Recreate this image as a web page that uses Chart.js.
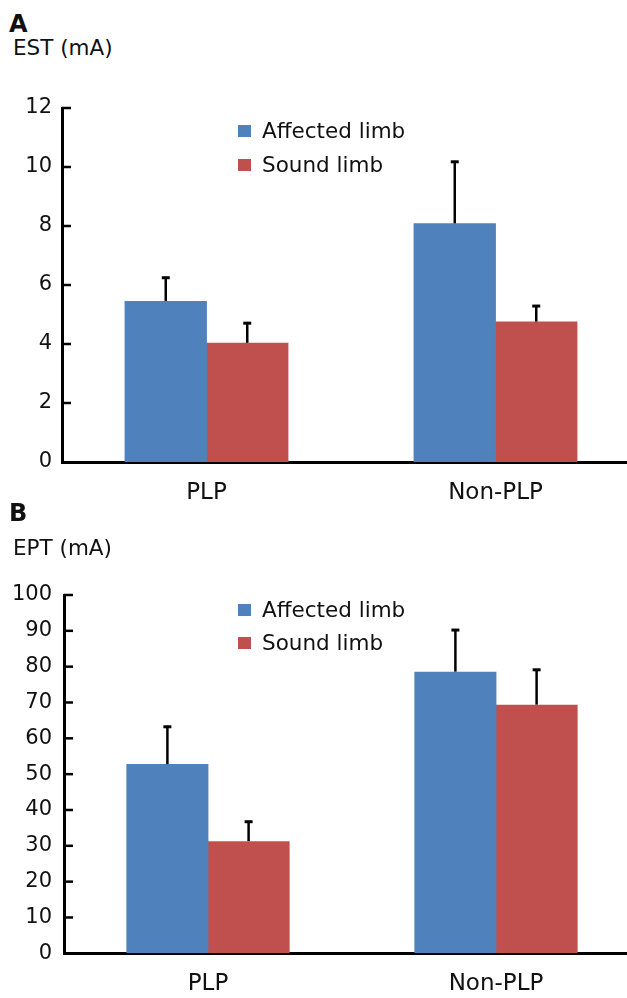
<!DOCTYPE html>
<html>
<head>
<meta charset="utf-8">
<script src="https://cdn.jsdelivr.net/npm/chart.js@4.4.0/dist/chart.umd.min.js"></script>
<style>
  html, body { margin: 0; padding: 0; background: #fff; overflow: hidden; width: 627px; height: 998px; }
  .box { position: absolute; left: 0; width: 660px; }
  .lbl { position: absolute; font-family: "DejaVu Sans", sans-serif; color: #111; white-space: nowrap; line-height: 1; }
  .panel { font-weight: bold; font-size: 24px; }
  .ytitle { font-size: 21.5px; }
</style>
</head>
<body>
<div class="lbl panel" style="left:9px; top:12px;">A</div>
<div class="lbl ytitle" style="left:13px; top:37px;">EST (mA)</div>
<div class="box" style="top:0; height:500px;"><canvas id="c1"></canvas></div>
<div class="lbl panel" style="left:9px; top:501px;">B</div>
<div class="lbl ytitle" style="left:13px; top:537px;">EPT (mA)</div>
<div class="box" style="top:500px; height:498px;"><canvas id="c2"></canvas></div>
<script>
// ---- data ----
const categories = ["PLP", "Non-PLP"];
const seriesNames = ["Affected limb", "Sound limb"];

const estAffected = [5.46, 8.09];
const estAffectedErr = [0.82, 2.12];
const estSound = [4.04, 4.76];
const estSoundErr = [0.70, 0.56];
const estTicks = [0, 2, 4, 6, 8, 10, 12];

const eptAffected = [52.8, 78.6];
const eptAffectedErr = [10.7, 11.9];
const eptSound = [31.3, 69.4];
const eptSoundErr = [5.7, 10.0];
const eptTicks = [0, 10, 20, 30, 40, 50, 60, 70, 80, 90, 100];

// ---- styles ----
const BLUE = "#4F81BD";
const RED = "#C0504D";
const FONT = "DejaVu Sans";

const errorBarPlugin = {
  id: "errorBars",
  afterDatasetsDraw(chart) {
    const ctx = chart.ctx;
    const yScale = chart.scales.y;
    chart.data.datasets.forEach((ds, di) => {
      const meta = chart.getDatasetMeta(di);
      meta.data.forEach((bar, i) => {
        const v = ds.data[i];
        const e = ds.errors[i];
        const yTop = yScale.getPixelForValue(v + e);
        ctx.save();
        ctx.strokeStyle = "#000";
        ctx.lineWidth = 2.5;
        ctx.beginPath();
        ctx.moveTo(bar.x, bar.y);
        ctx.lineTo(bar.x, yTop);
        ctx.stroke();
        ctx.lineWidth = 3;
        ctx.beginPath();
        ctx.moveTo(bar.x - 4, yTop + 1);
        ctx.lineTo(bar.x + 4, yTop + 1);
        ctx.stroke();
        ctx.restore();
      });
    });
  }
};

const inwardTicksPlugin = {
  id: "inwardTicks",
  afterDraw(chart) {
    const ctx = chart.ctx;
    const y = chart.scales.y;
    const x0 = chart.chartArea.left;
    ctx.save();
    ctx.strokeStyle = "#000";
    ctx.lineWidth = 2.5;
    y.ticks.forEach((t, i) => {
      if (i === 0) return;
      const py = y.getPixelForTick(i);
      ctx.beginPath();
      ctx.moveTo(x0, py);
      ctx.lineTo(x0 + 9, py);
      ctx.stroke();
    });
    ctx.restore();
  }
};

const customLegendPlugin = {
  id: "customLegend",
  afterDraw(chart, args, opts) {
    const ctx = chart.ctx;
    ctx.save();
    ctx.font = "21.5px '" + FONT + "'";
    ctx.textBaseline = "middle";
    ctx.textAlign = "left";
    chart.data.datasets.forEach((ds, i) => {
      const cy = opts.y[i];
      ctx.fillStyle = ds.backgroundColor;
      ctx.fillRect(opts.x, cy - 6, 13, 12);
      ctx.fillStyle = "#111";
      ctx.fillText(ds.label, opts.x + 24, cy + 1);
    });
    ctx.restore();
  }
};

function makeChart(id, aff, affErr, snd, sndErr, ticks, axisLeft, areaTop, xAxisH, tickPad, legendY) {
  const tickMax = ticks[ticks.length - 1];
  const step = ticks[1] - ticks[0];
  return new Chart(document.getElementById(id), {
    type: "bar",
    data: {
      labels: categories,
      datasets: [
        { label: seriesNames[0], data: aff, errors: affErr, backgroundColor: BLUE, borderWidth: 0,
          categoryPercentage: 0.564, barPercentage: 1.01 },
        { label: seriesNames[1], data: snd, errors: sndErr, backgroundColor: RED, borderWidth: 0,
          categoryPercentage: 0.564, barPercentage: 1.01 }
      ]
    },
    options: {
      responsive: true,
      maintainAspectRatio: false,
      animation: false,
      devicePixelRatio: 1,
      layout: { padding: { left: 0, right: 20, top: areaTop, bottom: 0 } },
      plugins: {
        legend: { display: false },
        tooltip: { enabled: false },
        customLegend: { x: 238, y: legendY }
      },
      scales: {
        x: {
          grid: { display: false, drawTicks: false },
          border: { display: true, color: "#000", width: 3 },
          ticks: { color: "#111", font: { family: FONT, size: 23 }, padding: 17 },
          afterFit(scale) { scale.height = xAxisH; }
        },
        y: {
          min: 0,
          max: tickMax,
          grid: { display: false, drawTicks: false },
          border: { display: true, color: "#000", width: 3 },
          ticks: { stepSize: step, color: "#111", font: { family: FONT, size: 21 }, padding: tickPad },
          afterFit(scale) { scale.width = axisLeft; }
        }
      }
    },
    plugins: [errorBarPlugin, inwardTicksPlugin, customLegendPlugin]
  });
}

makeChart("c1", estAffected, estAffectedErr, estSound, estSoundErr, estTicks, 62, 108, 38, 10, [131, 165]);
makeChart("c2", eptAffected, eptAffectedErr, eptSound, eptSoundErr, eptTicks, 64, 95, 44.7, 12, [110, 143]);
</script>
</body>
</html>
